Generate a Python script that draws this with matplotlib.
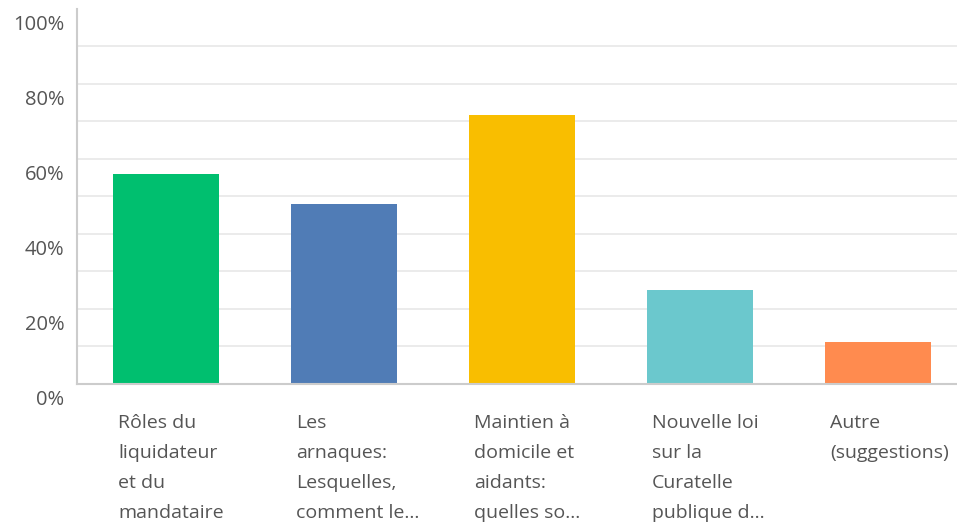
import matplotlib
matplotlib.use("Agg")
import matplotlib.pyplot as plt
from matplotlib.ticker import FixedLocator
from matplotlib.transforms import ScaledTranslation

# Data
categories = [
    "Rôles du\nliquidateur\net du\nmandataire",
    "Les\narnaques:\nLesquelles,\ncomment le…",
    "Maintien à\ndomicile et\naidants:\nquelles so…",
    "Nouvelle loi\nsur la\nCuratelle\npublique d…",
    "Autre\n(suggestions)",
]
values = [56, 48, 71.5, 25, 11]
colors = ["#00BF6F", "#507CB6", "#F9BE00", "#6BC8CD", "#FF8B4F"]
y_ticks = [0, 20, 40, 60, 80, 100]
y_labels = ["0%", "20%", "40%", "60%", "80%", "100%"]

plt.rcParams["font.family"] = ["Open Sans", "DejaVu Sans"]

fig = plt.figure(figsize=(9.57, 5.22), dpi=100)
ax = fig.add_axes([77 / 957, 1 - 383.5 / 522, 880 / 957, 375 / 522])

bar_w = 0.6
x = list(range(len(categories)))
ax.bar(x, values, width=bar_w, color=colors, zorder=2)

ax.set_xlim(-0.5, -0.5 + 880 / 178)
ax.set_ylim(0, 100)

# gridlines every 10% (not at 0 / 100)
ax.yaxis.set_major_locator(FixedLocator(y_ticks))
ax.set_yticklabels(y_labels)
ax.yaxis.set_minor_locator(FixedLocator(list(range(10, 100, 10))))
ax.grid(False)
ax.grid(axis="y", which="minor", color="#e8e8e8", linewidth=1.2, zorder=0)
for gv in [20, 40, 60, 80]:
    ax.axhline(gv, color="#e8e8e8", linewidth=1.2, zorder=0)

ax.tick_params(axis="y", which="both", length=0, pad=9, labelsize=14.5, labelcolor="#555555")
# labels sit a little below their gridline
off = ScaledTranslation(0, -10 / 72, fig.dpi_scale_trans)
for lab in ax.get_yticklabels():
    lab.set_transform(lab.get_transform() + off)

# category labels, left aligned under each bar
ax.set_xticks([i - bar_w / 2 + 0.03 for i in x])
ax.set_xticklabels(categories, ha="left", va="top", linespacing=1.85)
ax.tick_params(axis="x", length=0, pad=22, labelsize=14, labelcolor="#555555")

for s in ["top", "right"]:
    ax.spines[s].set_visible(False)
ax.spines["left"].set_color("#cccccc")
ax.spines["left"].set_linewidth(1.5)
ax.spines["bottom"].set_color("#cccccc")
ax.spines["bottom"].set_linewidth(1.5)

fig.savefig("out.png", dpi=100, facecolor="white")
